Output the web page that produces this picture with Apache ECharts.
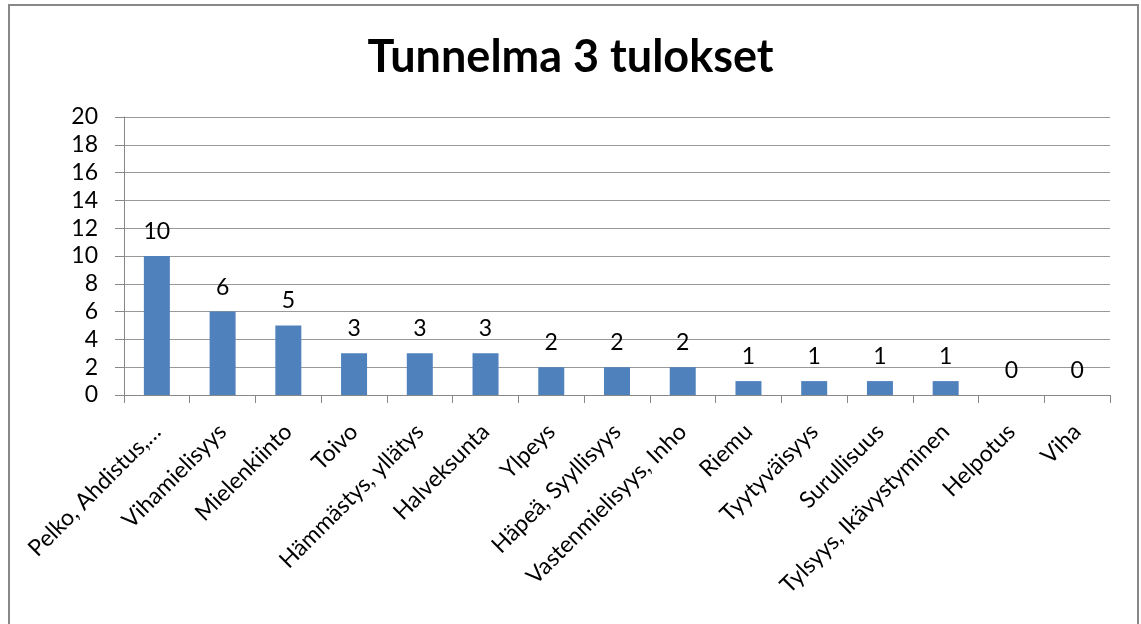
<!DOCTYPE html>
<html>
<head>
<meta charset="utf-8">
<script src="https://cdn.jsdelivr.net/npm/echarts@6/dist/echarts.min.js"></script>
<style>
html,body{margin:0;padding:0;background:#fff;}
#chart{width:1141px;height:624px;}
</style>
</head>
<body>
<div id="chart"></div>
<script>
const titleText = "Tunnelma 3 tulokset";
const categories = ["Pelko, Ahdistus,…","Vihamielisyys","Mielenkiinto","Toivo","Hämmästys, yllätys","Halveksunta","Ylpeys","Häpeä, Syyllisyys","Vastenmielisyys, Inho","Riemu","Tyytyväisyys","Surullisuus","Tylsyys, Ikävystyminen","Helpotus","Viha"];
const values = [10,6,5,3,3,3,2,2,2,1,1,1,1,0,0];
const yMin = 0, yMax = 20, yStep = 2;

const font = "Lato, 'Open Sans', sans-serif";
const chart = echarts.init(document.getElementById('chart'), null, {renderer:'canvas'});
chart.setOption({
  animation:false,
  backgroundColor:'#fff',
  title:{text:titleText,left:'center',top:30,textStyle:{fontFamily:font,fontWeight:'bold',fontSize:45,color:'#000'}},
  graphic:[{type:'rect',shape:{x:9,y:5,width:1129,height:700},style:{fill:'none',stroke:'#888',lineWidth:2},silent:true}],
  grid:{left:124,right:31,top:117,bottom:229,containLabel:false},
  xAxis:{type:'category',data:categories,
    axisLine:{lineStyle:{color:'#888',width:1}},
    axisTick:{show:true,length:8,lineStyle:{color:'#888'}},
    axisLabel:{rotate:45,interval:0,margin:33,fontFamily:font,fontSize:23,color:'#000'}},
  yAxis:{type:'value',min:yMin,max:yMax,interval:yStep,
    axisLine:{show:true,lineStyle:{color:'#888',width:1}},
    axisTick:{show:true,length:9,inside:false,lineStyle:{color:'#888'}},
    splitLine:{lineStyle:{color:'#999',width:1}},
    axisLabel:{margin:26,fontFamily:font,fontSize:23,color:'#000'}},
  series:[{type:'bar',data:values,barWidth:26,itemStyle:{color:'#4F81BD'},
    label:{show:true,position:'top',distance:13,fontFamily:font,fontSize:23,color:'#000'}}]
});
</script>
</body>
</html>
